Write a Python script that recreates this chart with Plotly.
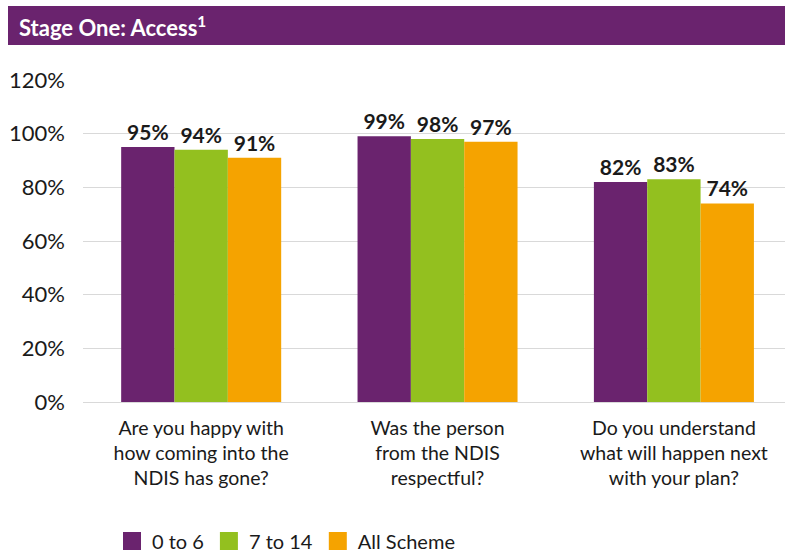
import plotly.graph_objects as go

categories = [
    "Are you happy with<br>how coming into the<br>NDIS has gone?",
    "Was the person<br>from the NDIS<br>respectful?",
    "Do you understand<br>what will happen next<br>with your plan?",
]
series_names = ["0 to 6", "7 to 14", "All Scheme"]
values_0_6 = [95, 99, 82]
values_7_14 = [94, 98, 83]
values_all = [91, 97, 74]
colors = ["#6A236E", "#93C01F", "#F5A300"]

FONT = "Lato"
W, H = 785, 554
L, T = 83, 80
BOTTOM = 402
B = H - BOTTOM
plot_h = BOTTOM - T
plot_w = W - L

fig = go.Figure()
for name, vals, col in zip(series_names, [values_0_6, values_7_14, values_all], colors):
    fig.add_trace(go.Bar(
        x=[0, 1, 2], y=vals, name=name, marker=dict(color=col, line=dict(width=0)),
        text=[f"{v}%" for v in vals], textposition="outside", cliponaxis=False,
        textfont=dict(family=FONT, size=21, color="#1a1a1a", weight="bold"),
        showlegend=False,
    ))
# legend entries with larger square symbols
for name, col in zip(series_names, colors):
    fig.add_trace(go.Scatter(
        x=[None], y=[None], mode="markers", name=name,
        marker=dict(symbol="square", size=16, color=col, line=dict(color=col, width=2)),
        showlegend=True,
    ))

def py(pix):
    return (BOTTOM - pix) / plot_h

def px(pix):
    return (pix - L) / plot_w

fig.add_shape(type="rect", xref="paper", yref="paper",
              x0=px(8), x1=1.0, y0=py(45), y1=py(6),
              fillcolor="#6A236E", line=dict(width=0), layer="above")
fig.add_annotation(xref="paper", yref="paper", x=px(17), y=py(26),
                   xanchor="left", yanchor="middle", showarrow=False,
                   text="<b>Stage One: Access<sup>1</sup></b>",
                   font=dict(family=FONT, size=22, color="white"))

fig.update_layout(
    width=W, height=H,
    margin=dict(l=L, r=0, t=T, b=B, autoexpand=False),
    plot_bgcolor="white", paper_bgcolor="white",
    barmode="group", bargap=0.323, bargroupgap=0,
    font=dict(family=FONT, color="#1a1a1a"),
    showlegend=True,
    legend=dict(orientation="h", x=px(112), y=py(541), xanchor="left", yanchor="middle",
                font=dict(family=FONT, size=20, color="#1a1a1a"), itemwidth=30,
                traceorder="normal"),
    xaxis=dict(range=[-0.5, 2.47], tickvals=[0, 1, 2], ticktext=categories,
               tickfont=dict(family=FONT, size=19.5, color="#1a1a1a"),
               showgrid=False, zeroline=False, showline=False, ticks="",
               ticklabelstandoff=12, automargin=False),
    yaxis=dict(range=[0, 120], dtick=20, ticksuffix="%",
               tickfont=dict(family=FONT, size=22, color="#1a1a1a"),
               gridcolor="#D9D9D9", gridwidth=1, zeroline=True, zerolinecolor="#D9D9D9",
               zerolinewidth=1, showline=False, ticks="", ticklabelstandoff=17,
               automargin=False),
)

fig.write_html("out.html", config={"displayModeBar": False},
               post_script="document.body.style.margin='0';document.body.style.overflow='hidden';")
